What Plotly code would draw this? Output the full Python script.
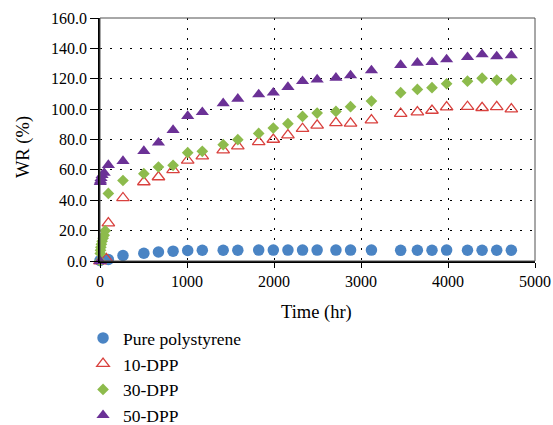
import plotly.graph_objects as go

# ---- data ----
t_pure = [0, 96, 264, 504, 672, 840, 1008, 1176, 1416, 1584, 1824, 1992, 2160, 2328,
          2496, 2712, 2880, 3120, 3456, 3648, 3816, 3984, 4224, 4392, 4560, 4728]
wr_pure = [0.3, 1.0, 3.6, 5.1, 5.9, 6.5, 6.9, 7.1, 7.1, 7.1, 7.2, 7.2, 7.2, 7.2,
           7.2, 7.2, 7.2, 7.2, 7.0, 7.1, 7.1, 7.2, 7.1, 7.1, 7.1, 7.1]

t_10 = [0, 72, 96, 264, 504, 672, 840, 1008, 1176, 1416, 1584, 1824, 1992, 2160, 2328,
        2496, 2712, 2880, 3120, 3456, 3648, 3816, 3984, 4224, 4392, 4560, 4728]
wr_10 = [0, 1.5, 25, 41.5, 52, 55.3, 60, 66.2, 69, 73, 75.7, 78.5, 80, 82.9, 87.1,
         89.3, 91, 90.6, 92.8, 97, 98, 99.1, 101.3, 101.6, 100.9, 101.5, 100]

t_30 = [0, 3, 6, 10, 16, 24, 36, 48, 60, 96, 264, 504, 672, 840, 1008, 1176, 1416, 1584,
        1824, 1992, 2160, 2328, 2496, 2712, 2880, 3120, 3456, 3648, 3816, 3984, 4224,
        4392, 4560, 4728]
wr_30 = [0, 5, 7, 9, 11, 13, 15, 17, 20, 44.5, 53, 57.5, 61.9, 63, 71.3, 72.2, 76.6, 79.9,
         84, 87.5, 90.4, 95.2, 97.4, 98.5, 101.6, 105.3, 110.8, 113, 114.1, 116.7, 118.4,
         120.4, 119.1, 119.5]

t_50 = [0, 3, 6, 12, 24, 48, 96, 264, 504, 672, 840, 1008, 1176, 1416, 1584, 1824, 1992,
        2160, 2328, 2496, 2712, 2880, 3120, 3456, 3648, 3816, 3984, 4224, 4392, 4560, 4728]
wr_50 = [0, 52, 53, 54.5, 56.5, 58, 63.2, 65.8, 72.4, 77.9, 86.2, 95.4, 98, 103.8, 106.8,
         109.7, 110.8, 114.5, 118.4, 119.5, 120.6, 122.2, 125.5, 129, 130.5, 130.9, 132.7,
         134.2, 136, 134.7, 135.4]

series_names = ["Pure polystyrene", "10-DPP", "30-DPP", "50-DPP"]
x_ticks = [0, 1000, 2000, 3000, 4000, 5000]
y_ticks = [0, 20, 40, 60, 80, 100, 120, 140, 160]
x_title = "Time (hr)"
y_title = "WR (%)"

FONT = "Liberation Serif, Times New Roman, serif"

fig = go.Figure()
fig.add_trace(go.Scatter(x=t_pure, y=wr_pure, mode="markers", name=series_names[0],
                         marker=dict(symbol="circle", size=11.5, color="#4A84C4"),
                         cliponaxis=False))
fig.add_trace(go.Scatter(x=t_10, y=wr_10, mode="markers", name=series_names[1],
                         marker=dict(symbol="triangle-up-open", size=11, color="#D9413E",
                                     line=dict(width=1.3, color="#D9413E")),
                         cliponaxis=False))
fig.add_trace(go.Scatter(x=t_30, y=wr_30, mode="markers", name=series_names[2],
                         marker=dict(symbol="diamond", size=9, color="#8DBB4C"),
                         cliponaxis=False))
fig.add_trace(go.Scatter(x=t_50, y=wr_50, mode="markers", name=series_names[3],
                         marker=dict(symbol="triangle-up", size=11.5, color="#6B3196"),
                         cliponaxis=False))

fig.update_layout(
    width=553, height=425,
    margin=dict(l=100, r=18, t=18, b=164, autoexpand=False),
    paper_bgcolor="white", plot_bgcolor="white",
    font=dict(family=FONT, size=16, color="black"),
    showlegend=True,
    legend=dict(x=-0.039, y=-0.243, xanchor="left", yanchor="top",
                font=dict(family=FONT, size=17.5, color="black"), tracegroupgap=0,
                itemwidth=30, bgcolor="rgba(0,0,0,0)"),
    shapes=[dict(type="rect", xref="paper", yref="paper", x0=0, y0=0, x1=1, y1=1,
                 line=dict(color="#505050", width=1), layer="above")],
    annotations=[
        dict(text=x_title, xref="paper", yref="paper", x=0.497, y=-0.212,
             xanchor="center", yanchor="middle", showarrow=False,
             font=dict(family=FONT, size=18.5, color="black")),
        dict(text=y_title, xref="paper", yref="paper", x=-0.1763, y=0.47,
             xanchor="center", yanchor="middle", showarrow=False, textangle=-90,
             font=dict(family=FONT, size=18.5, color="black")),
    ],
)
fig.update_xaxes(range=[0, 5000], tickvals=x_ticks, ticks="outside", ticklen=5,
                 tickcolor="black", showline=True, linecolor="black", linewidth=1.5,
                 showgrid=True, gridcolor="black", gridwidth=1.2, griddash="2px,8px",
                 zeroline=False, tickfont=dict(family=FONT, size=16))
fig.update_yaxes(range=[0, 160], tickvals=y_ticks, tickformat=".1f", ticks="outside",
                 ticklen=8, tickcolor="black", showline=True, linecolor="black",
                 linewidth=1.5, showgrid=True, gridcolor="black", gridwidth=1.2,
                 griddash="2px,8px", zeroline=False, tickfont=dict(family=FONT, size=16))

fig.write_html("out.html", config={"displayModeBar": False},
               post_script="document.body.style.margin='0';")
